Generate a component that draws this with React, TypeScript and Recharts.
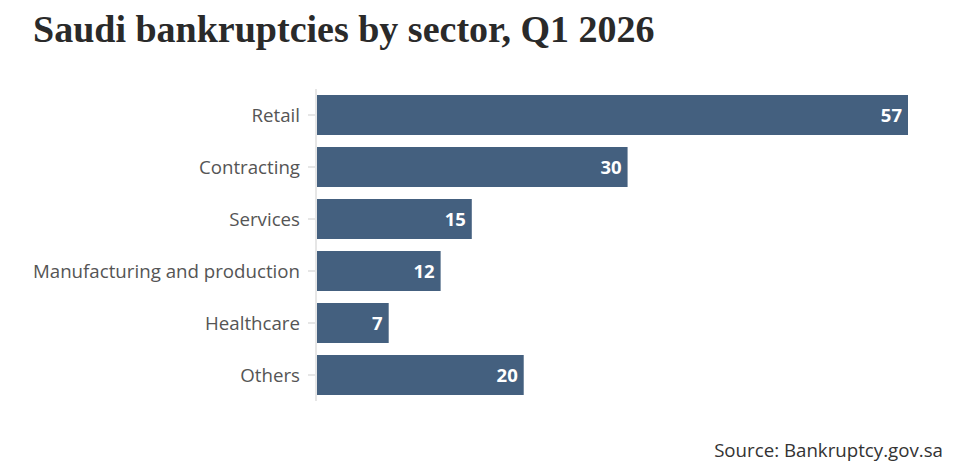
import React from 'react';
import { BarChart, Bar, XAxis, YAxis, LabelList } from 'recharts';

const sectors = ['Retail', 'Contracting', 'Services', 'Manufacturing and production', 'Healthcare', 'Others'];
const counts = [57, 30, 15, 12, 7, 20];

const data = sectors.map((sector, i) => ({ sector, count: counts[i] }));

const BAR_COLOR = '#44607f';
const SANS = '"Open Sans", Lato, sans-serif';

export default function App() {
  return (
    <div style={{ position: 'absolute', left: 0, top: 0, width: 960, height: 474, background: '#fff', overflow: 'hidden' }}>
      <div
        style={{
          position: 'absolute',
          left: 33,
          top: 7,
          fontFamily: '"Liberation Serif", "DejaVu Serif", serif',
          fontWeight: 700,
          fontSize: 38,
          color: '#2a2a2a',
          whiteSpace: 'nowrap',
        }}
      >
        Saudi bankruptcies by sector, Q1 2026
      </div>

      <BarChart
        width={960}
        height={474}
        data={data}
        layout="vertical"
        margin={{ top: 89, right: 52, bottom: 73, left: 0 }}
        barCategoryGap={6}
      >
        <XAxis type="number" domain={[0, 57]} hide />
        <YAxis
          type="category"
          dataKey="sector"
          width={316}
          axisLine={{ stroke: '#e6e6e6', strokeWidth: 2 }}
          tickLine={{ stroke: '#e6e6e6', strokeWidth: 2 }}
          tickSize={8}
          tickMargin={8}
          tick={{ fill: '#555', fontSize: 18.7, fontFamily: SANS }}
        />
        <Bar dataKey="count" fill={BAR_COLOR} barSize={40} isAnimationActive={false}>
          <LabelList
            dataKey="count"
            position="insideRight"
            offset={6}
            fill="#fff"
            style={{ fontSize: 18.5, fontWeight: 700, fontFamily: SANS }}
          />
        </Bar>
      </BarChart>

      <div
        style={{
          position: 'absolute',
          right: 17,
          top: 437,
          fontFamily: SANS,
          fontSize: 18.7,
          color: '#333',
          whiteSpace: 'nowrap',
        }}
      >
        Source: Bankruptcy.gov.sa
      </div>
    </div>
  );
}
